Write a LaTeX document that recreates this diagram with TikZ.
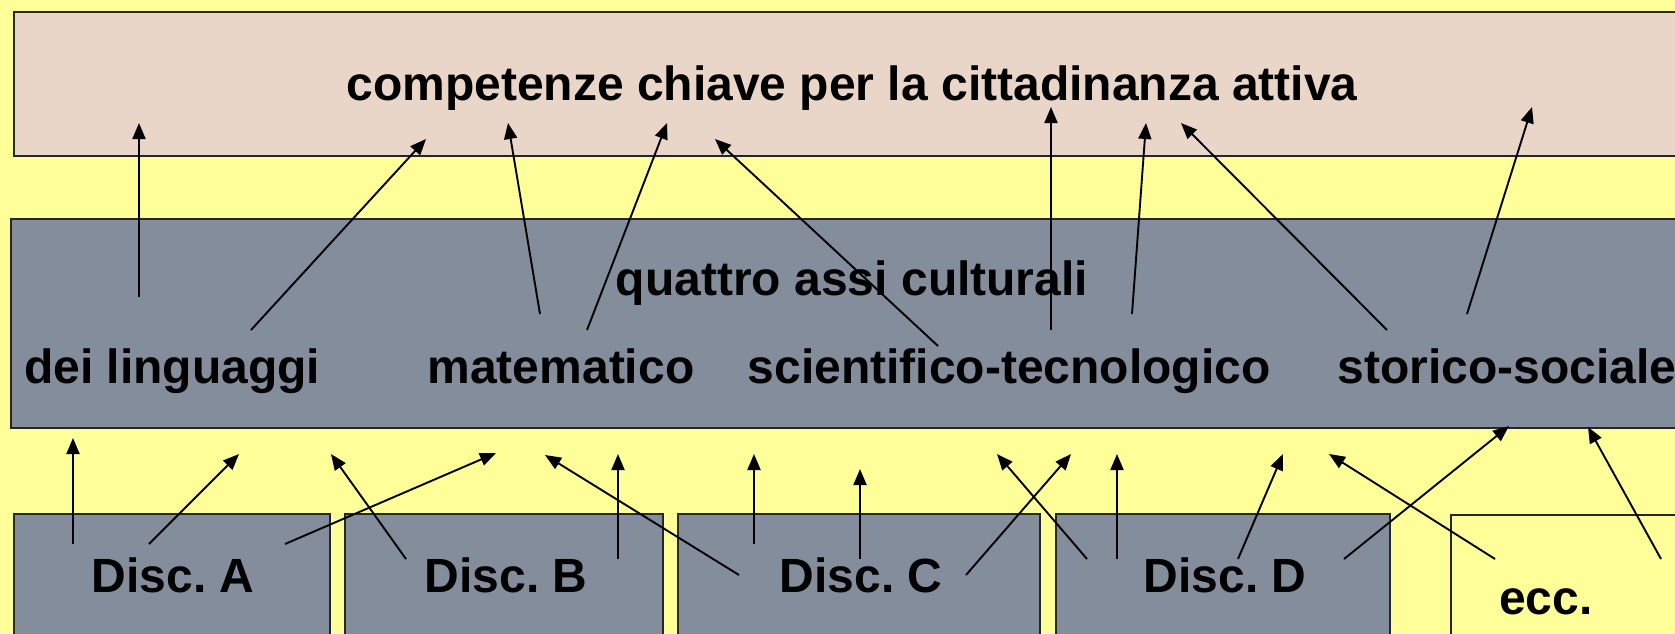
\documentclass[tikz,border=0pt]{standalone}
\usepackage{fontspec}
\setmainfont{Liberation Sans}
\usetikzlibrary{arrows.meta, positioning}

\definecolor{sfondo}{RGB}{255,255,153}
\definecolor{competenze}{RGB}{233,214,200}
\definecolor{assi}{RGB}{132,141,155}

\begin{document}
\frenchspacing
\begin{tikzpicture}[
    x=1pt, y=-1pt,
    >={Triangle[length=16pt, width=13pt]},
    font=\fontsize{48}{56}\selectfont\bfseries,
    % Blocks
    blocco/.style ={draw=black!85, line width=1.8pt, inner sep=0pt, anchor=north west},
    comp/.style   ={blocco, fill=competenze, minimum width=1690pt, minimum height=144pt},
    asse/.style   ={blocco, fill=assi, minimum width=1690pt, minimum height=209pt},
    disc/.style   ={blocco, fill=assi, minimum height=150pt},
    testo/.style  ={anchor=base, inner sep=0pt},
    % Arrows
    freccia/.style={->, line width=1.9pt}
]

% Page and background
\useasboundingbox (0,0) rectangle (1675,633);
\clip (0,0) rectangle (1675,633);
\fill[sfondo] (0,0) rectangle (1675,633);

% --------------------------- Competenze ------------------------------
\node[comp] (comp) at (13,11) {};
\node[testo] (titolo) at (852,100) {competenze chiave per la cittadinanza attiva};

% ----------------------------- Assi ----------------------------------
\node[asse] (assi) at (10,218) {};
\node[testo] (quattro) at (852,295) {quattro assi culturali};
\node[testo] (ling) at (172,383) {dei linguaggi};
\node[testo] (mat)  at (561,383) {matematico};
\node[testo] (sci)  at (1009,383) {scientifico-tecnologico};
\node[testo] (sto)  at (1507,383) {storico-sociale};

% -------------------------- Discipline -------------------------------
\node[disc, minimum width=316pt] (discA) at (13,513) {};
\node[disc, minimum width=318pt] (discB) at (344,513) {};
\node[disc, minimum width=362pt] (discC) at (677,513) {};
\node[disc, minimum width=334pt] (discD) at (1055,513) {};
\node[disc, fill=sfondo, minimum width=260pt] (ecc) at (1450,514) {};

\node[testo] (tA) at (173,592) {Disc. A};
\node[testo] (tB) at (506,592) {Disc. B};
\node[testo] (tC) at (861,592) {Disc. C};
\node[testo] (tD) at (1225,592) {Disc. D};
\node[testo] (tE) at (1546,614) {ecc.};

% ======================== Frecce =====================================

% assi -> competenze
\foreach \n/\da/\a in {s1/{139,297}/{139,123}, s2/{251,330}/{426,139},
                       s3/{540,314}/{508,123}, s4/{587,330}/{667,123},
                       s5/{938,346}/{715,139}, s6/{1051,330}/{1051,107},
                       s7/{1132,314}/{1146,123}, s8/{1387,330}/{1181,123},
                       s9/{1467,314}/{1532,107}}
{
  \coordinate (da\n) at (\da);
  \coordinate (a\n) at (\a);
  \draw[freccia] (da\n) -- (a\n);
}

% discipline -> assi
\foreach \n/\da/\a in {ia/{73,544}/{73,438}, ib/{149,544}/{239,454},
                       ic/{285,544}/{496,453}, id/{406,559}/{331,454},
                       ie/{739,575}/{545,455}, if/{618,559}/{618,454},
                       ig/{754,544}/{754,454}, ih/{860,559}/{860,469},
                       ii/{966,575}/{1071,454}, ij/{1087,559}/{997,454},
                       ik/{1117,559}/{1117,454}, il/{1238,559}/{1283,454},
                       im/{1344,559}/{1509,426}, in/{1495,559}/{1329,454},
                       io/{1661,559}/{1588,427}}
{
  \coordinate (da\n) at (\da);
  \coordinate (a\n) at (\a);
  \draw[freccia] (da\n) -- (a\n);
}

\end{tikzpicture}
\end{document}
